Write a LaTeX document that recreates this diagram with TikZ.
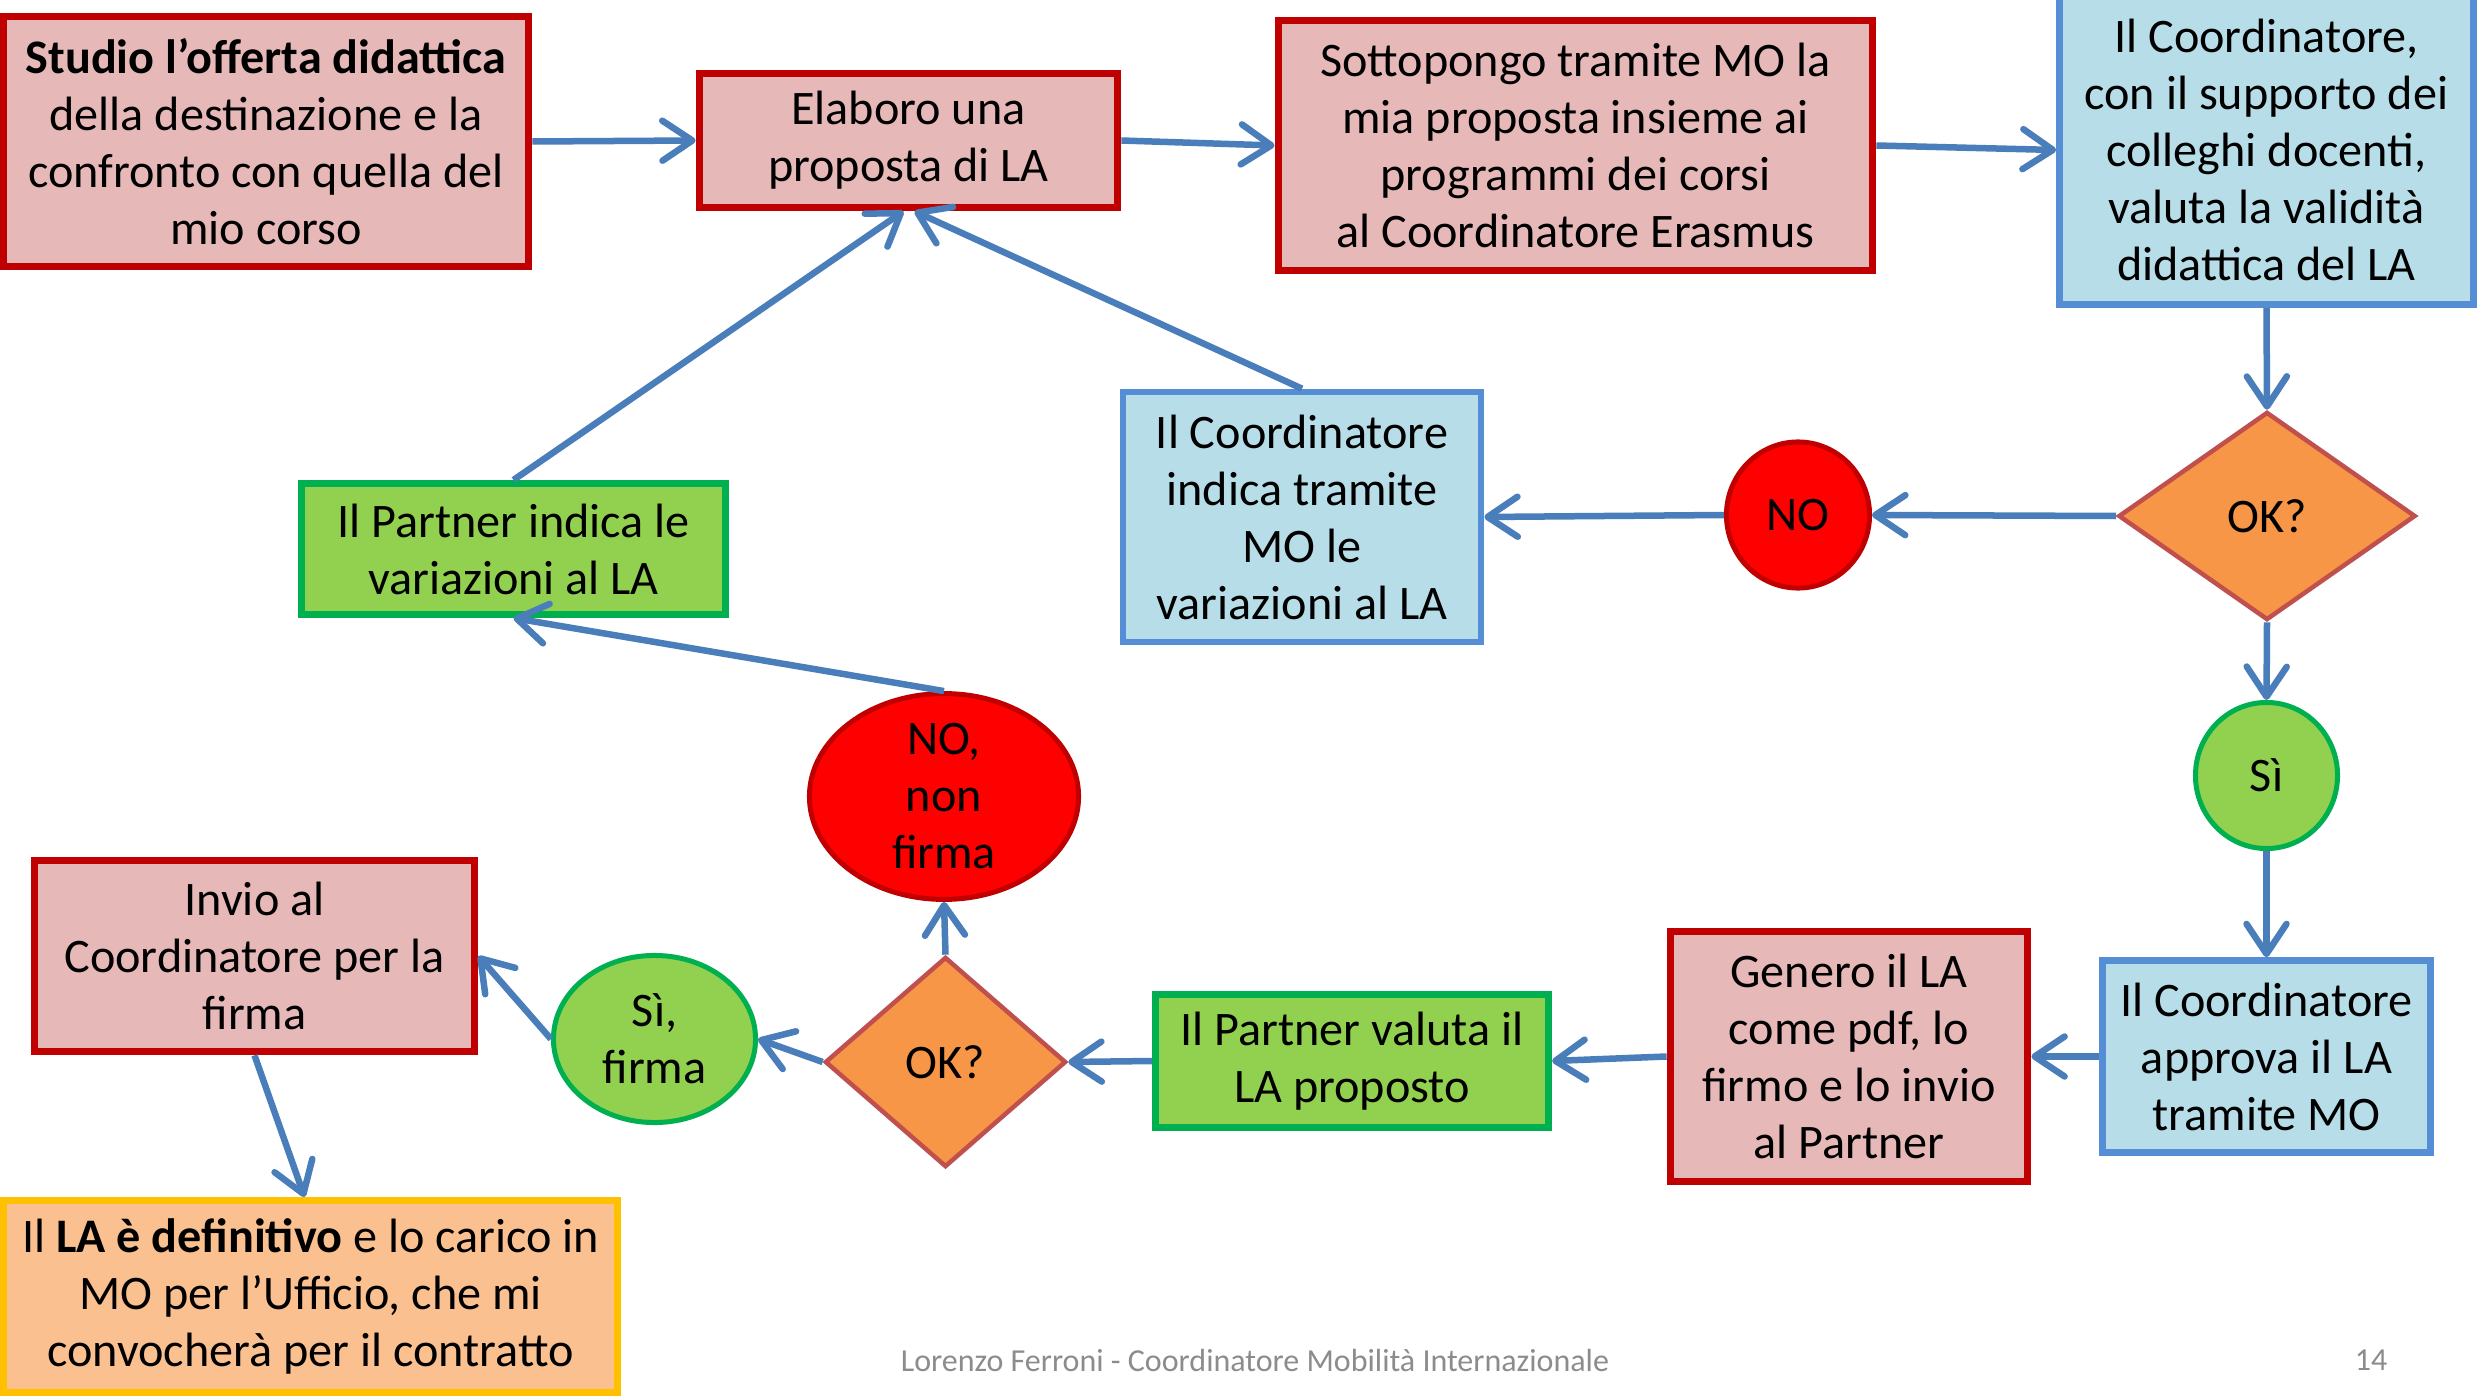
\documentclass[tikz,border=0pt]{standalone}
\usepackage{fontspec}
\setmainfont{Carlito}
\usetikzlibrary{arrows.meta,shapes.geometric}
\definecolor{redfill}{HTML}{E6B9B8}
\definecolor{redline}{HTML}{C00000}
\definecolor{bluefill}{HTML}{B7DEE8}
\definecolor{blueline}{HTML}{558ED5}
\definecolor{greenfill}{HTML}{92D050}
\definecolor{greenline}{HTML}{00B050}
\definecolor{orangefill}{HTML}{F79646}
\definecolor{orangeline}{HTML}{C0504D}
\definecolor{finfill}{HTML}{FAC090}
\definecolor{finline}{HTML}{FFC000}
\definecolor{arrowc}{HTML}{4A7EBB}
\definecolor{footc}{HTML}{8C8C8C}
\tikzset{
  base/.style={align=center, inner sep=0pt, font=\fontsize{13.7}{16.2}\selectfont},
  redbox/.style={base, rectangle, draw=redline, fill=redfill, line width=0.075cm},
  bluebox/.style={base, rectangle, draw=blueline, fill=bluefill, line width=0.065cm},
  greenbox/.style={base, rectangle, draw=greenline, fill=greenfill, line width=0.07cm},
  finbox/.style={base, rectangle, draw=finline, fill=finfill, line width=0.07cm},
  decision/.style={base, diamond, draw=orangeline, fill=orangefill, line width=0.045cm},
  redcirc/.style={base, ellipse, draw=redline, fill=red, line width=0.05cm},
  greencirc/.style={base, ellipse, draw=greenline, fill=greenfill, line width=0.05cm},
  flow/.style={draw=arrowc, line width=0.065cm, -{Straight Barb[length=0.3cm,width=0.4cm,round]}},
  foot/.style={text=footc, font=\fontsize{9.1}{11}\selectfont, inner sep=0pt}
}
\begin{document}
\begin{tikzpicture}[x=0.01cm,y=-0.01cm]
\useasboundingbox[fill=white] (0,0) rectangle (2484,1397);
\node[redbox, minimum width=5.25cm, minimum height=2.50cm] (b1) at (266,141.5)
  {\textbf{Studio l’offerta didattica}\\della destinazione e la\\confronto con quella del\\mio corso};
\node[redbox, minimum width=4.18cm, minimum height=1.34cm] (b2) at (908.5,140.5)
  {Elaboro una\\proposta di LA};
\node[redbox, minimum width=5.94cm, minimum height=2.50cm] (b3) at (1575.5,145.5)
  {Sottopongo tramite MO la\\mia proposta insieme ai\\programmi dei corsi\\al Coordinatore Erasmus};
\node[bluebox, minimum width=4.14cm, minimum height=3.09cm] (b4) at (2266.5,150)
  {Il Coordinatore,\\con il supporto dei\\colleghi docenti,\\valuta la validità\\didattica del LA};
\node[decision, minimum width=2.97cm, minimum height=2.08cm] (ok1) at (2267,516) {OK?};
\node[redcirc, minimum width=1.43cm, minimum height=1.46cm] (no1) at (1798,515) {NO};
\node[bluebox, minimum width=3.58cm, minimum height=2.50cm] (bb2) at (1302,517)
  {Il Coordinatore\\indica tramite\\MO le\\variazioni al LA};
\node[greenbox, minimum width=4.24cm, minimum height=1.31cm] (g1) at (513.5,549)
  {Il Partner indica le\\variazioni al LA};
\node[redcirc, minimum width=2.69cm, minimum height=1.88cm] (nnf) at (944,796.5)
  {NO,\\non\\firma};
\node[decision, minimum width=2.41cm, minimum height=2.10cm] (ok2) at (945.5,1062) {OK?};
\node[greencirc, minimum width=2.02cm, minimum height=1.67cm] (sf) at (654.5,1039)
  {Sì,\\firma};
\node[redbox, minimum width=4.40cm, minimum height=1.91cm] (inv) at (254.5,956)
  {Invio al\\Coordinatore per la\\firma};
\node[finbox, minimum width=6.14cm, minimum height=1.92cm] (fin) at (310.5,1296.5)
  {Il \textbf{LA è definitivo} e lo carico in\\MO per l’Ufficio, che mi\\convocherà per il contratto};
\node[greenbox, minimum width=3.93cm, minimum height=1.33cm] (g2) at (1352,1061)
  {Il Partner valuta il\\LA proposto};
\node[redbox, minimum width=3.57cm, minimum height=2.50cm] (gen) at (1849,1056.5)
  {Genero il LA\\come pdf, lo\\firmo e lo invio\\al Partner};
\node[bluebox, minimum width=3.28cm, minimum height=1.92cm] (app) at (2266.5,1056.5)
  {Il Coordinatore\\approva il LA\\tramite MO};
\node[greencirc, minimum width=1.42cm, minimum height=1.46cm] (si) at (2266.5,775.5) {Sì};
\node[foot] (ft) at (1255,1360) {Lorenzo Ferroni - Coordinatore Mobilità Internazionale};
\node[foot] (pg) at (2371,1360) {14};
% connectors
\draw[flow] (b1.east) -- (b2.west);
\draw[flow] (b2.east) -- (b3.west);
\draw[flow] (b3.east) -- (b4.west);
\draw[flow] (b4.south) -- (ok1.north);
\draw[flow] (ok1.west) -- (no1.east);
\draw[flow] (no1.west) -- (bb2.east);
\draw[flow] (bb2.north) -- ([xshift=0.06cm]b2.south);
\draw[flow] (g1.north) -- ([xshift=-0.05cm]b2.south);
\draw[flow] (nnf.north) -- (g1.south);
\draw[flow] (ok1.south) -- (si.north);
\draw[flow] (si.south) -- (app.north);
\draw[flow] (app.west) -- (gen.east);
\draw[flow] (gen.west) -- (g2.east);
\draw[flow] (g2.west) -- (ok2.east);
\draw[flow] (ok2.west) -- (sf.east);
\draw[flow] (ok2.north) -- (nnf.south);
\draw[flow] (sf.west) -- (inv.east);
\draw[flow] (inv.south) -- ([xshift=0.5cm]fin.north -| inv.south);
\end{tikzpicture}
\end{document}
